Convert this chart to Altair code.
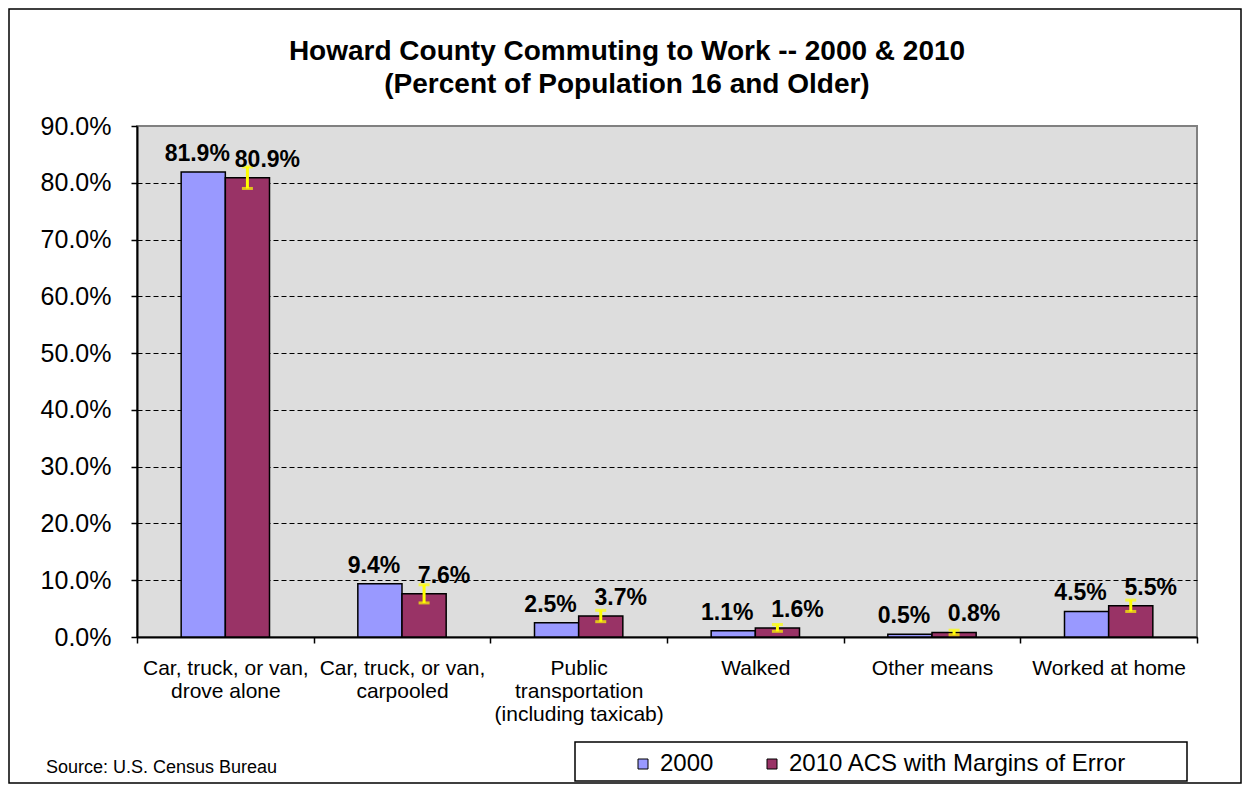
import altair as alt
import pandas as pd

# ---- data ----
categories = [
    "Car, truck, or van,|drove alone",
    "Car, truck, or van,|carpooled",
    "Public|transportation|(including taxicab)",
    "Walked",
    "Other means",
    "Worked at home",
]
series = ["2000", "2010 ACS with Margins of Error"]
values_2000 = [81.9, 9.4, 2.5, 1.1, 0.5, 4.5]
values_2010 = [80.9, 7.6, 3.7, 1.6, 0.8, 5.5]
moe_2010 = [1.9, 1.6, 1.0, 0.6, 0.4, 1.0]
y_ticks = [0, 10, 20, 30, 40, 50, 60, 70, 80, 90]
title_lines = ["Howard County Commuting to Work -- 2000 & 2010",
               "(Percent of Population 16 and Older)"]
source_text = "Source:  U.S. Census Bureau"
colors = ["#9999FF", "#993366"]

rows = []
for c, v in zip(categories, values_2000):
    rows.append({"category": c, "series": series[0], "value": v,
                 "low": None, "high": None, "label": f"{v:.1f}%"})
for c, v, m in zip(categories, values_2010, moe_2010):
    rows.append({"category": c, "series": series[1], "value": v,
                 "low": max(v - m, 0), "high": v + m, "label": f"{v:.1f}%"})
df = pd.DataFrame(rows)

FONT = "Liberation Sans"
W, H = 1060, 511

x_enc = alt.X(
    "category:N", sort=categories,
    scale=alt.Scale(paddingInner=0, paddingOuter=0),
    axis=alt.Axis(
        title=None, labelExpr="split(datum.label, '|')", labelAngle=0,
        labelFontSize=21, labelColor="black", labelFont=FONT,
        labelLineHeight=23, labelBaseline="top", labelPadding=14,
        tickBand="extent", tickSize=6, tickColor="black", tickWidth=1.5,
        domainColor="black", domainWidth=2, grid=False, labelLimit=0,
    ),
)
xo_enc = alt.XOffset(
    "series:N", sort=series,
    scale=alt.Scale(domain=series, paddingInner=0, paddingOuter=1),
)
y_enc = alt.Y(
    "value:Q",
    scale=alt.Scale(domain=[0, 90], nice=False),
    axis=alt.Axis(
        title=None, values=y_ticks,
        labelExpr="format(datum.value, '.1f') + '%'",
        labelFontSize=25, labelColor="black", labelFont=FONT, labelPadding=20,
        tickSize=6, tickColor="black", tickWidth=1.5,
        domainColor="black", domainWidth=2,
        grid=True, gridColor="black", gridDash=[5, 3], gridWidth=1,
        gridOpacity={"condition": {"test": "datum.value >= 90", "value": 0}, "value": 1},
    ),
)
color_enc = alt.Color(
    "series:N",
    scale=alt.Scale(domain=series, range=colors),
    legend=alt.Legend(
        orient="none", legendX=494, legendY=626, direction="horizontal",
        columns=2, title=None, symbolType="square", symbolSize=100,
        symbolStrokeColor="black", symbolStrokeWidth=1, symbolOpacity=1,
        labelFontSize=24, labelColor="black", labelFont=FONT, labelLimit=0,
        columnPadding=46, labelOffset=5, padding=0,
    ),
)

base = alt.Chart(df)

bars = base.mark_bar(stroke="black", strokeWidth=1.5).encode(
    x=x_enc, xOffset=xo_enc, y=y_enc, color=color_enc
)

err_data = base.transform_filter(alt.datum.series == series[1])
err_rule = err_data.mark_rule(color="#FFFF00", strokeWidth=3).encode(
    x=x_enc, xOffset=xo_enc, y="low:Q", y2="high:Q"
)
err_top = err_data.mark_tick(color="#FFFF00", thickness=3, size=11,
                             orient="horizontal").encode(
    x=x_enc, xOffset=xo_enc, y="high:Q"
)
err_bot = err_data.mark_tick(color="#FFFF00", thickness=3, size=11,
                             orient="horizontal").encode(
    x=x_enc, xOffset=xo_enc, y="low:Q"
)

lab_a = base.transform_filter(alt.datum.series == series[0]).mark_text(
    font=FONT, fontSize=23, fontWeight="bold", color="black",
    baseline="alphabetic", dy=-11, dx=-6
).encode(x=x_enc, xOffset=xo_enc, y="value:Q", text="label:N")
lab_b = base.transform_filter(alt.datum.series == series[1]).mark_text(
    font=FONT, fontSize=23, fontWeight="bold", color="black",
    baseline="alphabetic", dy=-11, dx=20
).encode(x=x_enc, xOffset=xo_enc, y="value:Q", text="label:N")

one = pd.DataFrame({"k": [0]})
deco = alt.Chart(one)

title = deco.mark_text(
    font=FONT, fontSize=28, fontWeight="bold", color="black",
    align="center", baseline="alphabetic", lineHeight=33
).encode(x=alt.value(490), y=alt.value(-66), text=alt.value(title_lines))

source = deco.mark_text(
    font=FONT, fontSize=18, color="black", align="left", baseline="alphabetic"
).encode(x=alt.value(-91), y=alt.value(647), text=alt.value(source_text))

legend_box = deco.mark_rect(fill="white", stroke="black", strokeWidth=1.5).encode(
    x=alt.value(438), x2=alt.value(1050), y=alt.value(616), y2=alt.value(655)
)

outer = deco.mark_rect(fill="white", fillOpacity=0, stroke="black", strokeWidth=1.5).encode(
    x=alt.value(-128), x2=alt.value(1104), y=alt.value(-117), y2=alt.value(657)
)

chart = alt.layer(
    outer, legend_box, bars, err_rule, err_top, err_bot, lab_a, lab_b, title, source
).properties(
    width=W, height=H,
    autosize=alt.AutoSizeParams(type="none"),
    padding={"left": 129, "top": 118, "right": 45, "bottom": 147},
    background="white",
).configure(font=FONT).configure_view(
    fill="#DDDDDD", stroke="#808080", strokeWidth=2
)

chart.save("out.html", embed_options={"renderer": "svg", "actions": False})
